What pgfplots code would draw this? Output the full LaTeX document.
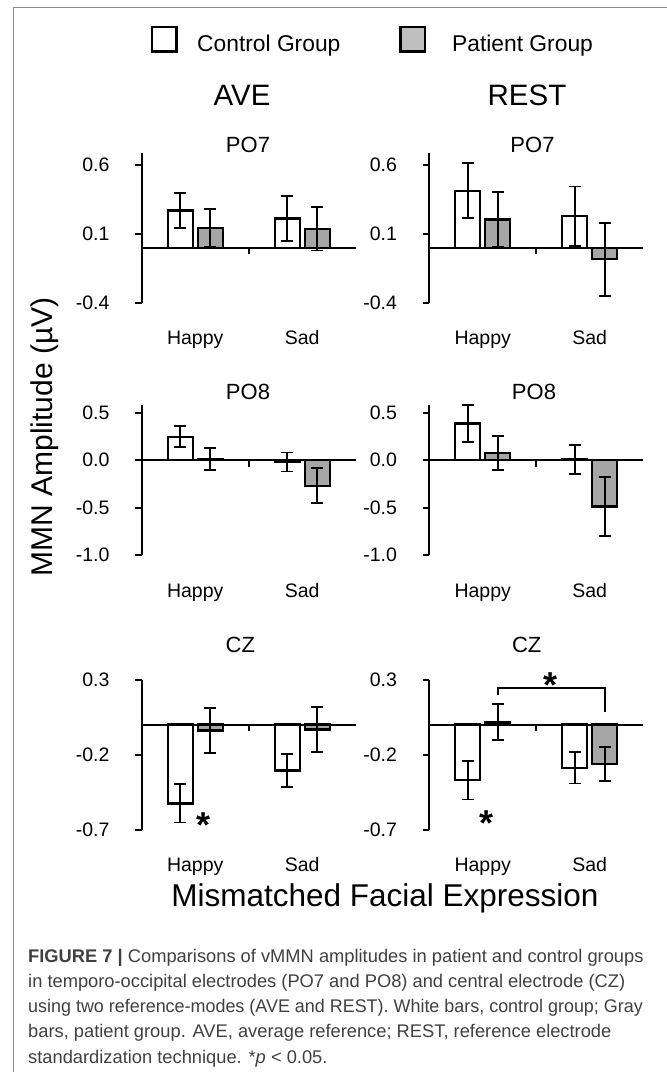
\documentclass[border=0pt]{standalone}
\usepackage{fontspec}
\setmainfont{Liberation Sans}
\usepackage{pgfplots}
\pgfplotsset{compat=1.18}
\definecolor{barfill}{HTML}{A6A6A6}
\definecolor{legfill}{HTML}{BFBFBF}
\definecolor{framegray}{HTML}{8C8C8C}
\definecolor{captext}{HTML}{404040}
\newcommand\fs[1]{\fontsize{#1}{#1}\selectfont}
\pgfplotsset{
  panel/.style={
    scale only axis, width=214pt, height=150pt,
    xmin=-0.5, xmax=1.5,
    axis y line*=left, axis x line*=bottom,
    x axis line style={draw=none},
    y axis line style={line width=2pt,-},
    xtick={0,1}, xticklabels={Happy,Sad},
    x tick style={draw=none},
    y tick style={line width=2pt,black},
    tick align=outside, major tick length=6.5pt,
    xticklabel style={font=\fs{19.5}, anchor=base, inner sep=0pt, yshift=-35.5pt},
    yticklabel style={font=\fs{19.5}, anchor=east, inner sep=0pt, xshift=-25.5pt},
    ybar, bar width=25pt, clip=false,
  },
  ctrl/.style={fill=white, draw=black, line width=2.3pt, bar shift=-15pt,
    error bars/.cd, y dir=both, y explicit,
    error bar style={line width=1.8pt, black},
    error mark options={rotate=90, mark size=6pt, line width=1.8pt, black}},
  pat/.style={fill=barfill, draw=black, line width=2.3pt, bar shift=15pt,
    error bars/.cd, y dir=both, y explicit,
    error bar style={line width=1.8pt, black},
    error mark options={rotate=90, mark size=6pt, line width=1.8pt, black}},
}
\newcommand\zeroline{%
  \draw[line width=2pt] (axis cs:-0.5,0) -- (axis cs:1.5,0);
  \draw[line width=2pt] (axis cs:0.5,0) -- ++(0pt,-6.5pt);}
\begin{document}
\begin{tikzpicture}
\path[use as bounding box] (0,0) rectangle (667pt,-1072pt);
\fill[white] (0,0) rectangle (667pt,-1072pt);
% frame
\draw[framegray, line width=1.5pt] (13.3pt,-1072pt) -- (13.3pt,-7.5pt) -- (667pt,-7.5pt);
% legend
\draw[black, line width=2.3pt, fill=white] (152.3pt,-27pt) rectangle (176.6pt,-51.5pt);
\draw[black, line width=2.3pt, fill=legfill] (400.5pt,-27pt) rectangle (425pt,-51.5pt);
\node[font=\fs{22.8}, anchor=base west, inner sep=0pt] at (197pt,-51.5pt) {Control Group};
\node[font=\fs{22.8}, anchor=base west, inner sep=0pt] at (452pt,-51.5pt) {Patient Group};
% column titles
\node[font=\fs{29.5}, anchor=base, inner sep=0pt] at (242pt,-105.6pt) {AVE};
\node[font=\fs{29.5}, anchor=base, inner sep=0pt] at (527pt,-105.6pt) {REST};
% panel titles
\node[font=\fs{22}, anchor=base, inner sep=0pt] at (248pt,-152.8pt) {PO7};
\node[font=\fs{22}, anchor=base, inner sep=0pt] at (532.5pt,-152.8pt) {PO7};
\node[font=\fs{22}, anchor=base, inner sep=0pt] at (248pt,-399.2pt) {PO8};
\node[font=\fs{22}, anchor=base, inner sep=0pt] at (534pt,-399.2pt) {PO8};
\node[font=\fs{22}, anchor=base, inner sep=0pt] at (240.3pt,-652.2pt) {CZ};
\node[font=\fs{22}, anchor=base, inner sep=0pt] at (526.7pt,-652.2pt) {CZ};
% axis titles
\node[font=\fs{30}, rotate=90, anchor=center, inner sep=0pt] at (45pt,-437pt) {MMN Amplitude (µV)};
\node[font=\fs{31.5}, anchor=base, inner sep=0pt] at (385pt,-906pt) {Mismatched Facial Expression};

% ---------- AVE PO7
\begin{axis}[panel, at={(141.7pt,-302.7pt)}, anchor=south west,
  ymin=-0.4, ymax=0.69, ytick={-0.4,0.1,0.6}, yticklabels={-0.4,0.1,0.6}]
\addplot[ctrl] coordinates {(0,0.270) +- (0,0.128) (1,0.212) +- (0,0.163)};
\addplot[pat]  coordinates {(0,0.144) +- (0,0.137) (1,0.137) +- (0,0.158)};
\zeroline
\end{axis}
% ---------- REST PO7
\begin{axis}[panel, at={(429.2pt,-302.7pt)}, anchor=south west,
  ymin=-0.4, ymax=0.69, ytick={-0.4,0.1,0.6}, yticklabels={-0.4,0.1,0.6}]
\addplot[ctrl] coordinates {(0,0.413) +- (0,0.200) (1,0.229) +- (0,0.216)};
\addplot[pat]  coordinates {(0,0.205) +- (0,0.200) (1,-0.084) +- (0,0.265)};
\zeroline
\end{axis}
% ---------- AVE PO8
\begin{axis}[panel, at={(141.7pt,-555pt)}, anchor=south west,
  ymin=-1.0, ymax=0.58, ytick={-1,-0.5,0,0.5}, yticklabels={-1.0,-0.5,0.0,0.5}]
\addplot[ctrl] coordinates {(0,0.245) +- (0,0.110) (1,-0.020) +- (0,0.100)};
\addplot[pat]  coordinates {(0,0.010) +- (0,0.115) (1,-0.270) +- (0,0.185)};
\zeroline
\end{axis}
% ---------- REST PO8
\begin{axis}[panel, at={(429.2pt,-555pt)}, anchor=south west,
  ymin=-1.0, ymax=0.58, ytick={-1,-0.5,0,0.5}, yticklabels={-1.0,-0.5,0.0,0.5}]
\addplot[ctrl] coordinates {(0,0.386) +- (0,0.195) (1,0.005) +- (0,0.150)};
\addplot[pat]  coordinates {(0,0.077) +- (0,0.180) (1,-0.490) +- (0,0.310)};
\zeroline
\end{axis}
% ---------- AVE CZ
\begin{axis}[panel, at={(141.7pt,-829.5pt)}, anchor=south west,
  ymin=-0.7, ymax=0.3, ytick={-0.7,-0.2,0.3}, yticklabels={-0.7,-0.2,0.3}]
\addplot[ctrl] coordinates {(0,-0.526) +- (0,0.127) (1,-0.306) +- (0,0.110)};
\addplot[pat]  coordinates {(0,-0.040) +- (0,0.150) (1,-0.034) +- (0,0.151)};
\zeroline
\node[font=\bfseries\fs{36}, anchor=base, inner sep=0pt] at (axis cs:0.073,-0.756) {*};
\end{axis}
% ---------- REST CZ
\begin{axis}[panel, at={(429.2pt,-829.5pt)}, anchor=south west,
  ymin=-0.7, ymax=0.3, ytick={-0.7,-0.2,0.3}, yticklabels={-0.7,-0.2,0.3}]
\addplot[ctrl] coordinates {(0,-0.372) +- (0,0.128) (1,-0.288) +- (0,0.105)};
\addplot[pat]  coordinates {(0,0.017) +- (0,0.118) (1,-0.262) +- (0,0.112)};
\zeroline
\draw[line width=2pt] (axis cs:0.14,0.197) |- (axis cs:1.14,0.241) -- (axis cs:1.14,0.085);
\node[font=\bfseries\fs{36}, anchor=base, inner sep=0pt] at (axis cs:0.636,0.179) {*};
\node[font=\bfseries\fs{36}, anchor=base, inner sep=0pt] at (axis cs:0.04,-0.743) {*};
\end{axis}

% caption
\begin{scope}[every node/.style={font=\fs{18.3}, anchor=base west, inner sep=0pt, text=captext}]
\node at (28pt,-962pt) {\textbf{FIGURE 7 |} Comparisons of vMMN amplitudes in patient and control groups};
\node at (28pt,-987.3pt) {in temporo-occipital electrodes (PO7 and PO8) and central electrode (CZ)};
\node at (28pt,-1012.5pt) {\scalebox{0.98}[1]{using two reference-modes (AVE and REST). White bars, control group; Gray}};
\node at (28pt,-1037.8pt) {bars, patient group. AVE, average reference; REST, reference electrode};
\node at (28pt,-1063pt) {standardization technique. *\textit{p} < 0.05.};
\end{scope}
\end{tikzpicture}
\end{document}
